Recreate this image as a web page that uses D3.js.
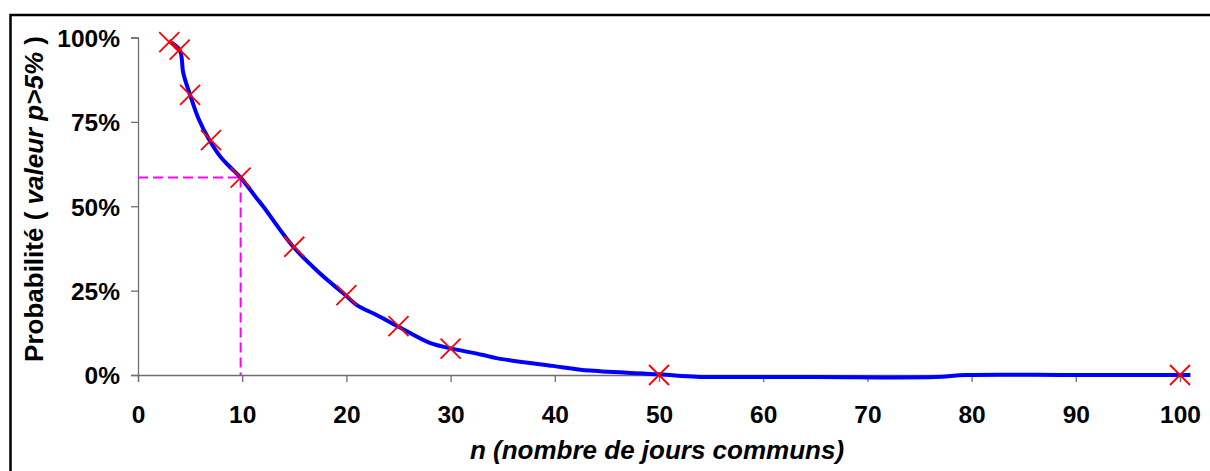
<!DOCTYPE html>
<html>
<head>
<meta charset="utf-8">
<script src="https://cdn.jsdelivr.net/npm/d3@7"></script>
<style>
  html, body { margin: 0; padding: 0; background: #fff; }
  svg { display: block; }
  text { font-family: "Liberation Sans", Arial, sans-serif; font-weight: bold; fill: #000; }
</style>
</head>
<body>
<svg id="chart" width="1210" height="471"></svg>
<script>
// Observed probabilities (red crosses): n = number of shared days, p = share with p-value > 5%
const sampleN = [3, 4, 5, 7, 9.85, 15, 20, 25, 30, 50, 100];
const sampleP = [98.6, 96.4, 83, 69.6, 58.5, 38, 23.7, 14.5, 7.8, 0, 0];

// Smoothed probability curve (blue)
const curveN = [3, 4, 4.35, 5, 5.8, 6.85, 7.9, 8.8, 9.85, 11.4, 12, 14.9, 17.5, 19.9, 21, 22.9, 25, 28, 30, 33, 34.4, 39.8, 43.4, 50, 53.6, 56.8, 65, 76.5, 79.5, 90, 101];
const curveP = [98.8, 96.3, 89.4, 83, 76, 69.6, 64.7, 61.7, 58.5, 52.3, 50, 38, 30, 23.7, 20.7, 17.8, 14.3, 9.5, 7.9, 6.0, 5.0, 2.7, 1.3, 0.2, -0.5, -0.6, -0.6, -0.6, 0, 0, 0];

// Reading guide at n = 10
const guideN = 9.85;
const guideP = 58.5;

// Axis ticks
const xTicks = [0, 10, 20, 30, 40, 50, 60, 70, 80, 90, 100];
const yTicks = [0, 25, 50, 75, 100];
const yTickLabels = ["0%", "25%", "50%", "75%", "100%"];

const svg = d3.select("#chart");

const x = d3.scaleLinear().domain([0, 100]).range([138, 1180]);
const y = d3.scaleLinear().domain([0, 100]).range([375, 37.5]);

// Outer frame
svg.append("rect")
  .attr("x", 10.5).attr("y", 15)
  .attr("width", 1220).attr("height", 480)
  .attr("fill", "none").attr("stroke", "#000").attr("stroke-width", 2.5);

// Axes
const axisColor = "#6e6e6e";
const xAxis = svg.append("g")
  .attr("transform", `translate(0,${y(0)})`)
  .call(d3.axisBottom(x).tickValues(xTicks).tickSize(7).tickPadding(9).tickFormat(d3.format("d")));
const yAxis = svg.append("g")
  .attr("transform", `translate(${x(0)},0)`)
  .call(d3.axisLeft(y).tickValues(yTicks).tickSize(7).tickPadding(11)
    .tickFormat((d, i) => yTickLabels[i]));

[xAxis, yAxis].forEach(g => {
  g.select(".domain").attr("stroke", axisColor).attr("stroke-width", 1.3);
  g.selectAll(".tick line").attr("stroke", axisColor).attr("stroke-width", 1.3);
  g.selectAll(".tick text")
    .attr("font-family", "'Liberation Sans', Arial, sans-serif")
    .attr("font-weight", "bold")
    .attr("font-size", 24.5)
    .attr("fill", "#000");
});
xAxis.selectAll(".tick text").attr("dy", "1.3em");
yAxis.selectAll(".tick text").attr("dy", "0.36em");

// Dashed guide lines
const guide = svg.append("g")
  .attr("stroke", "#ff00ff").attr("stroke-width", 2)
  .attr("stroke-dasharray", "10,5").attr("fill", "none");
guide.append("line")
  .attr("x1", x(0)).attr("x2", x(guideN))
  .attr("y1", y(guideP)).attr("y2", y(guideP));
guide.append("line")
  .attr("x1", x(guideN)).attr("x2", x(guideN))
  .attr("y1", y(guideP)).attr("y2", y(0));

// Smoothed curve
const curveData = curveN.map((n, i) => [n, curveP[i]]);
svg.append("path")
  .datum(curveData)
  .attr("fill", "none")
  .attr("stroke", "#0000ff")
  .attr("stroke-width", 4)
  .attr("stroke-linejoin", "round")
  .attr("d", d3.line().x(d => x(d[0])).y(d => y(d[1])).curve(d3.curveCatmullRom.alpha(0.5)));

// Observed points as crosses
const s = 10;
svg.append("g")
  .selectAll("path")
  .data(sampleN.map((n, i) => [n, sampleP[i]]))
  .join("path")
  .attr("transform", d => `translate(${x(d[0])},${y(d[1])})`)
  .attr("d", `M${-s},${-s}L${s},${s}M${-s},${s}L${s},${-s}`)
  .attr("stroke", "#ff0000")
  .attr("stroke-width", 1.8)
  .attr("fill", "none");

// Axis titles
const yTitle = svg.append("text")
  .attr("transform", `translate(43,199) rotate(-90)`)
  .attr("text-anchor", "middle")
  .attr("font-size", 26);
yTitle.append("tspan").text("Probabilité ( ");
yTitle.append("tspan").attr("font-style", "italic").text("valeur p>5%");
yTitle.append("tspan").text(" )");

svg.append("text")
  .attr("x", 657).attr("y", 459)
  .attr("text-anchor", "middle")
  .attr("font-size", 26)
  .attr("font-style", "italic")
  .text("n (nombre de jours communs)");
</script>
</body>
</html>
